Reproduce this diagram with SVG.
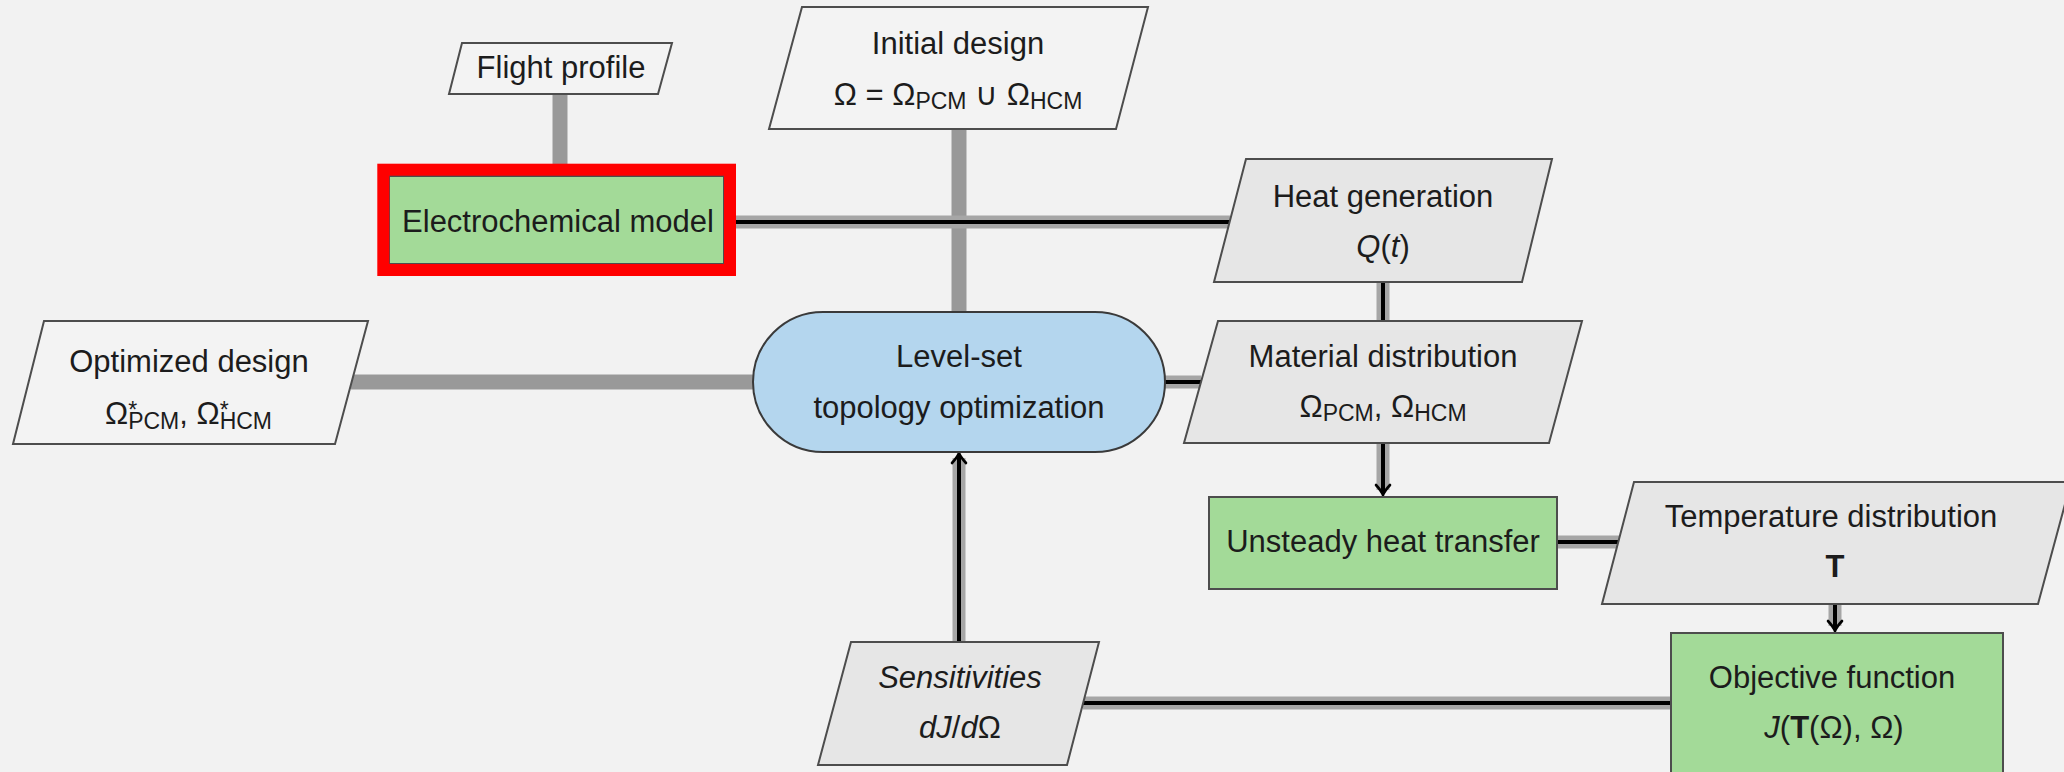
<svg xmlns="http://www.w3.org/2000/svg" width="2064" height="772" viewBox="0 0 2064 772">
<style>
.t{font-family:"Liberation Sans",Arial,sans-serif;font-size:31px;fill:#1c1c1c;text-anchor:middle}
.s{font-family:"Liberation Sans",Arial,sans-serif;font-size:31px;fill:#1c1c1c}
.sub{font-size:23px}
.it{font-style:italic}
.bd{font-weight:bold}
.pl{fill:#f3f3f3;stroke:#4d4d4d;stroke-width:2}
.pg{fill:#e6e6e6;stroke:#4d4d4d;stroke-width:2}
.gr{fill:#a3da98;stroke:#4d4d4d;stroke-width:2}
.ls{fill:#b4d6ee;stroke:#3a3a3a;stroke-width:2}
.gc{fill:none;stroke:#999999;stroke-width:15}
.halo{fill:none;stroke:#a6a6a6;stroke-width:13}
.blk{fill:none;stroke:#000;stroke-width:4}
</style>
<defs>
<marker id="arr" markerUnits="userSpaceOnUse" viewBox="-12 -10 14 20" refX="0" refY="0" markerWidth="14" markerHeight="20" orient="auto" overflow="visible">
<path d="M-9,-7 Q-3,-1.5 1,0 Q-3,1.5 -9,7" fill="none" stroke="#000" stroke-width="2.6" stroke-linecap="round"/>
</marker>
</defs>
<rect x="0" y="0" width="2064" height="772" fill="#f2f2f2"/>
<g id="connectors">
<path class="gc" d="M560 94 V164"/>
<path class="gc" d="M959 129 V312"/>
<path class="gc" d="M351 382 H753"/>
<path class="halo" d="M736 222 H1230"/>
<path class="blk" d="M736 222 H1230"/>
<path class="halo" d="M1383 282 V321"/>
<path class="blk" d="M1383 282 V321"/>
<path class="halo" d="M1165 382 H1201"/>
<path class="blk" d="M1165 382 H1201"/>
<path class="halo" d="M1383 443 V490"/>
<path class="blk" d="M1383 443 V494" marker-end="url(#arr)"/>
<path class="halo" d="M1557 542 H1619"/>
<path class="blk" d="M1557 542 H1619"/>
<path class="halo" d="M1835 604 V626"/>
<path class="blk" d="M1835 604 V630" marker-end="url(#arr)"/>
<path class="halo" d="M1671 703 H1083"/>
<path class="blk" d="M1671 703 H1083"/>
<path class="halo" d="M959 642 V458"/>
<path class="blk" d="M959 642 V454" marker-end="url(#arr)"/>
</g>
<g id="flight-profile">
<polygon class="pl" points="462,43 672,43 658,94 449,94"/>
<text class="t" x="561" y="78">Flight profile</text>
</g>
<g id="initial-design">
<polygon class="pl" points="802,7 1148,7 1116,129 769,129"/>
<text class="t" x="958" y="54">Initial design</text>
<text class="t" x="958" y="105">Ω = Ω<tspan class="sub" dy="4">PCM</tspan><tspan dy="-4"> ∪ Ω</tspan><tspan class="sub" dy="4">HCM</tspan></text>
</g>
<g id="electrochemical-model">
<rect class="gr" x="389" y="176" width="335" height="88"/>
<rect x="383.3" y="169.7" width="346.7" height="100.3" fill="none" stroke="#ff0000" stroke-width="12"/>
<text class="t" x="558" y="232">Electrochemical model</text>
</g>
<g id="heat-generation">
<polygon class="pg" points="1246,159 1552,159 1522,282 1214,282"/>
<text class="t" x="1383" y="207">Heat generation</text>
<text class="t" x="1383" y="257"><tspan class="it">Q</tspan>(<tspan class="it">t</tspan>)</text>
</g>
<g id="level-set">
<rect class="ls" x="753" y="312" width="412" height="140" rx="70" ry="70"/>
<text class="t" x="959" y="367">Level-set</text>
<text class="t" x="959" y="418">topology optimization</text>
</g>
<g id="optimized-design">
<polygon class="pl" points="44,321 368,321 335,444 13,444"/>
<text class="t" x="189" y="372">Optimized design</text>
<text class="s" x="105" y="424">Ω<tspan class="sub" dy="-6">*</tspan><tspan class="sub" dx="-9" dy="11">PCM</tspan><tspan dy="-5">, Ω</tspan><tspan class="sub" dy="-6">*</tspan><tspan class="sub" dx="-9" dy="11">HCM</tspan></text>
</g>
<g id="material-distribution">
<polygon class="pg" points="1218,321 1582,321 1549,443 1184,443"/>
<text class="t" x="1383" y="367">Material distribution</text>
<text class="t" x="1383" y="417">Ω<tspan class="sub" dy="4">PCM</tspan><tspan dy="-4">, Ω</tspan><tspan class="sub" dy="4">HCM</tspan></text>
</g>
<g id="unsteady-heat-transfer">
<rect class="gr" x="1209" y="497" width="348" height="92"/>
<text class="t" x="1383" y="552">Unsteady heat transfer</text>
</g>
<g id="temperature-distribution">
<polygon class="pg" points="1634,482 2071,482 2038,604 1602,604"/>
<text class="t" x="1831" y="527">Temperature distribution</text>
<text class="t bd" x="1835" y="577">T</text>
</g>
<g id="objective-function">
<rect class="gr" x="1671" y="633" width="332" height="160"/>
<text class="t" x="1832" y="688">Objective function</text>
<text class="t" x="1834" y="738"><tspan class="it">J</tspan>(<tspan class="bd">T</tspan>(Ω), Ω)</text>
</g>
<g id="sensitivities">
<polygon class="pg" points="851,642 1099,642 1067,765 818,765"/>
<text class="t it" x="960" y="688">Sensitivities</text>
<text class="t" x="960" y="738"><tspan class="it">dJ</tspan>/<tspan class="it">d</tspan>Ω</text>
</g>
</svg>
